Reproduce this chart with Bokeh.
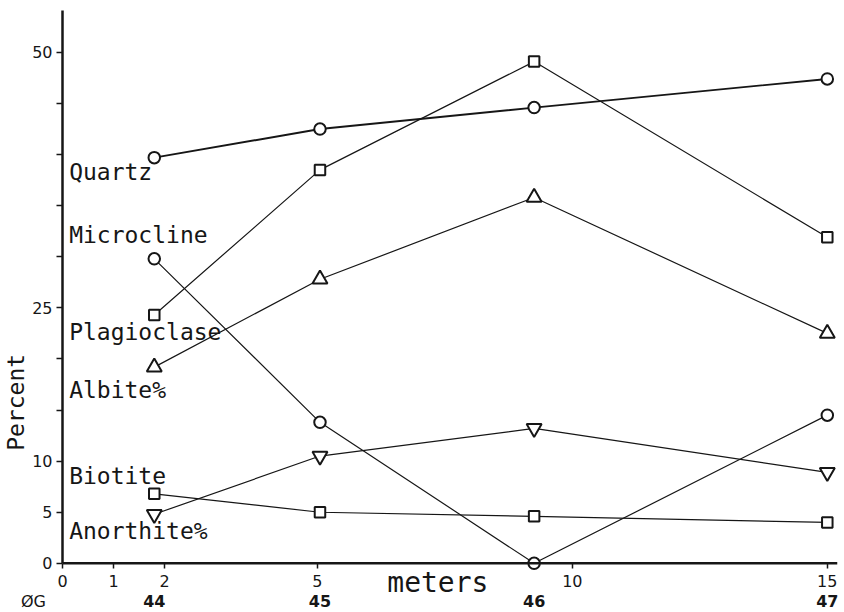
from bokeh.plotting import figure
from bokeh.models import Range1d, FixedTicker, Span, Label
from bokeh.embed import file_html
from bokeh.resources import INLINE
from bokeh.core.properties import value

# Sample positions along the traverse (meters) and their sample numbers
meters = [1.8, 5.05, 9.25, 15.0]
samples = ["44", "45", "46", "47"]

# Modal composition, percent
quartz = [39.7, 42.5, 44.6, 47.4]
microcline = [29.8, 13.8, 0.0, 14.5]
plagioclase = [24.3, 38.5, 49.1, 31.9]
albite_pct = [19.2, 27.8, 35.8, 22.5]
biotite = [6.8, 5.0, 4.6, 4.0]
anorthite_pct = [4.8, 10.5, 13.2, 8.9]

x_ticks = [0, 1, 2, 5, 10, 15]
y_ticks = list(range(0, 55, 5))
y_labelled = [0, 5, 10, 25, 50]

INK = "#161616"
MONO = "DejaVu Sans Mono"

p = figure(
    width=844, height=612,
    x_range=Range1d(0, 15.2), y_range=Range1d(-0.8, 54.1),
    output_backend="svg", toolbar_location=None,
    min_border_left=62, min_border_right=7, min_border_top=10, min_border_bottom=41,
)
p.outline_line_color = None
p.xgrid.visible = False
p.ygrid.visible = False
p.background_fill_color = "white"
p.border_fill_color = "white"

# y axis: ticks every 5 %, labels only at a few values
ya = p.yaxis[0]
ya.ticker = FixedTicker(ticks=y_ticks)
ya.major_label_overrides = {t: ("" if t not in y_labelled else str(t)) for t in y_ticks}
ya.bounds = (0, 54.1)
ya.axis_line_width = 2.5
ya.axis_line_color = INK
ya.major_tick_line_color = INK
ya.major_tick_line_width = 1.5
ya.major_tick_in = 0
ya.major_tick_out = 6
ya.minor_tick_line_color = None
ya.major_label_standoff = 4
ya.major_label_text_font = "DejaVu Sans"
ya.major_label_text_font_size = "16px"
ya.major_label_text_color = INK

# x axis (meters): the baseline itself is drawn at y = 0
xa = p.xaxis[0]
xa.ticker = FixedTicker(ticks=x_ticks)
xa.axis_line_color = None
xa.major_tick_line_color = INK
xa.major_tick_line_width = 1.5
xa.major_tick_in = 8
xa.major_tick_out = -3
xa.minor_tick_line_color = None
xa.major_label_standoff = 3
xa.major_label_text_font = "DejaVu Sans"
xa.major_label_text_font_size = "16px"
xa.major_label_text_color = INK

p.add_layout(Span(location=0, dimension="width", line_color=INK, line_width=2.5))

series = [
    (quartz, "circle", 11.5, 1.9),
    (microcline, "circle", 11.5, 1.2),
    (plagioclase, "square", 10.5, 1.2),
    (albite_pct, "triangle", 15, 1.2),
    (biotite, "square", 10.5, 1.2),
    (anorthite_pct, "inverted_triangle", 15, 1.2),
]
for vals, marker, size, lw in series:
    p.line(meters, vals, line_color=INK, line_width=lw)
for vals, marker, size, lw in series:
    p.scatter(meters, vals, marker=marker, size=size, line_color=INK,
              line_width=2, fill_color="white")

# series names at the left of the traverse
names = [
    ("Quartz", 38.3),
    ("Microcline", 32.1),
    ("Plagioclase", 22.6),
    ("Albite%", 17.0),
    ("Biotite", 8.5),
    ("Anorthite%", 3.15),
]
for text, ybase in names:
    p.add_layout(Label(x=0.13, y=ybase, text=text, text_font=MONO,
                       text_font_size="23px", text_color=INK,
                       text_baseline="alphabetic", text_align="left"))

# texts in the margins: drawn on the overlay level so they are not cut at the frame
p.text(x=[6.37], y=[-1.85], text=["meters"], text_font=value(MONO),
       text_font_size="28px", text_color=INK, text_baseline="alphabetic",
       text_align="left", level="overlay")
p.text(x=[-0.92], y=[15.75], text=["Percent"], text_font=value(MONO),
       text_font_size="23px", text_color=INK, angle=1.5708,
       text_baseline="middle", text_align="center", level="overlay")
p.text(x=[-0.57], y=[-3.72], text=["ØG"], text_font=value("DejaVu Sans"),
       text_font_size="16px", text_color=INK, text_baseline="middle",
       text_align="center", level="overlay")
p.text(x=meters, y=[-3.72] * len(meters), text=samples,
       text_font=value("DejaVu Sans"), text_font_size="16px",
       text_font_style="bold", text_color=INK, text_baseline="middle",
       text_align="center", level="overlay")

open("out.html", "w").write(file_html(p, INLINE))
